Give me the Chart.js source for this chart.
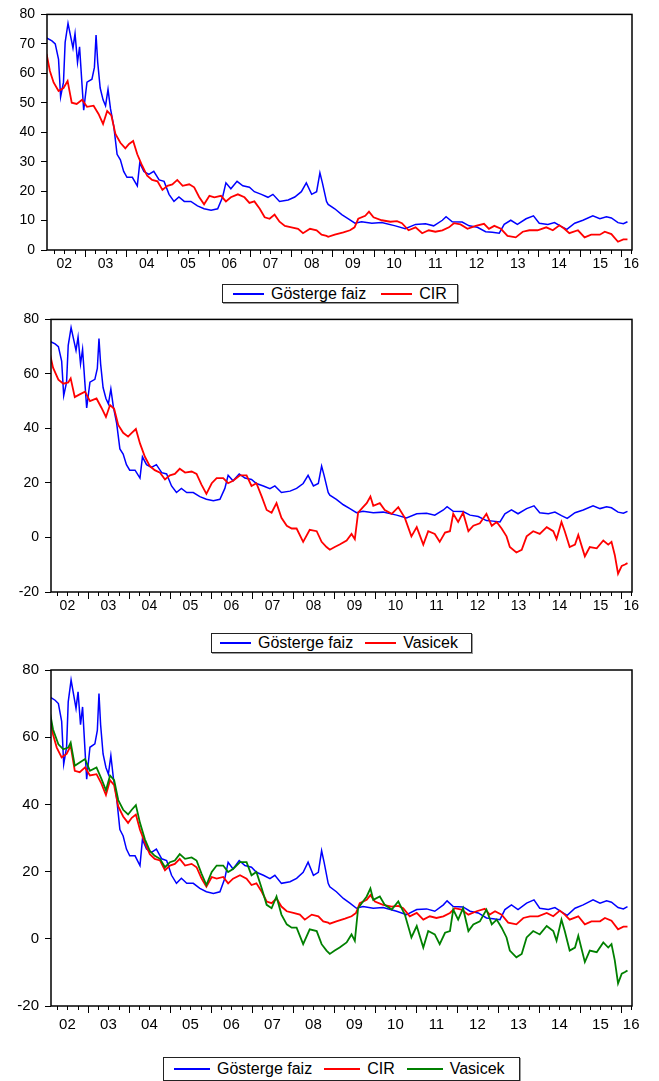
<!DOCTYPE html>
<html>
<head>
<meta charset="utf-8">
<script src="https://cdn.jsdelivr.net/npm/chart.js@4.4.0/dist/chart.umd.min.js"></script>
<style>
html,body{margin:0;padding:0;background:#fff;}
body{width:659px;height:1081px;position:relative;overflow:hidden;font-family:"Liberation Sans",Arial,sans-serif;}
canvas{position:absolute;left:0;}
.lg{position:absolute;box-sizing:border-box;border:1px solid #222;box-shadow:1px 1px 0 #9a9a9a;background:#fff;
    display:flex;align-items:center;font-size:16px;color:#000;white-space:nowrap;line-height:1;}
.lg .it{display:flex;align-items:center;}
</style>
</head>
<body>
<canvas id="c1"></canvas>
<canvas id="c2"></canvas>
<canvas id="c3"></canvas>
<div class="lg" id="l1"></div>
<div class="lg" id="l2"></div>
<div class="lg" id="l3"></div>
<script>
/* ===================== data ===================== */
const years      = [2002,2003,2004,2005,2006,2007,2008,2009,2010,2011,2012,2013,2014,2015,2016];
const yearLabels = ['02','03','04','05','06','07','08','09','10','11','12','13','14','15','16'];

// Gösterge faiz (benchmark rate)
const gostT = [2002.07,2002.20,2002.28,2002.36,2002.41,2002.48,2002.52,2002.59,2002.64,2002.71,2002.76,2002.82,2002.87,2002.93,2002.97,
  2003.05,2003.17,2003.23,2003.27,2003.31,2003.37,2003.44,2003.50,2003.56,2003.62,2003.70,2003.78,2003.86,2003.94,
  2004.02,2004.15,2004.27,2004.33,2004.43,2004.55,2004.67,2004.80,2004.92,
  2005.04,2005.16,2005.28,2005.41,2005.57,2005.73,2005.89,
  2006.06,2006.22,2006.34,2006.42,2006.54,2006.69,2006.83,2006.99,
  2007.11,2007.28,2007.44,2007.56,2007.72,2007.93,
  2008.09,2008.25,2008.37,2008.50,2008.62,2008.70,2008.76,2008.86,2008.90,
  2009.06,2009.23,2009.39,2009.55,2009.71,2009.96,2010.20,2010.53,2010.77,
  2011.02,2011.26,2011.46,2011.67,2011.76,2011.91,2012.15,2012.32,2012.52,2012.72,2012.88,
  2013.05,2013.17,2013.33,2013.49,2013.70,2013.88,2014.02,2014.23,2014.39,2014.55,2014.69,2014.88,
  2015.08,2015.32,2015.49,2015.65,2015.77,2015.93,2016.06,2016.16];
const gostV = [72.0,71,70,64.7,52,57,70.5,77,73.5,68.6,73.5,63.7,69,56,47.5,
  57,58,62,73,63.7,55,51,49,54.5,48,42,32.5,30.6,26.7,
  24.7,24.7,21.8,29.6,26.7,25.7,26.7,23.8,23.3,
  18.9,16.5,18,16.5,16.5,15,14,
  13.5,14,18,22.8,20.8,23.3,21.8,21.3,
  19.8,18.9,17.9,18.9,16.5,17,
  18,19.8,22.8,18.9,19.8,26.2,22.8,16.5,15.5,
  14,12,10.6,9.1,9.6,9.1,9.3,8.2,7.2,
  8.7,8.9,8.2,10.1,11.3,9.6,9.5,8.2,7.7,6.2,6,
  5.7,8.7,10.1,8.7,10.6,11.6,9.1,8.7,9.3,8,7,9.1,
  10.1,11.6,10.6,11.3,10.9,9.3,8.9,9.6];

// CIR
const cirT = [2002.07,2002.15,2002.24,2002.36,2002.48,2002.58,2002.68,2002.80,2002.93,
  2003.05,2003.21,2003.33,2003.44,2003.54,2003.64,2003.74,2003.86,2003.98,
  2004.07,2004.17,2004.27,2004.39,2004.51,2004.63,2004.76,2004.88,
  2005.00,2005.12,2005.24,2005.37,2005.53,2005.65,2005.77,2005.89,
  2006.02,2006.14,2006.30,2006.42,2006.54,2006.71,2006.87,2006.99,
  2007.11,2007.24,2007.36,2007.48,2007.60,2007.72,2007.85,
  2008.01,2008.17,2008.29,2008.46,2008.62,2008.74,2008.86,2008.90,
  2009.06,2009.27,2009.43,2009.54,2009.63,2009.80,2009.89,2010.00,2010.20,2010.41,2010.57,2010.69,2010.85,
  2011.02,2011.18,2011.34,2011.50,2011.67,2011.83,2011.95,2012.11,2012.28,2012.48,2012.68,2012.80,2012.93,
  2013.09,2013.25,2013.45,2013.62,2013.78,2013.98,2014.19,2014.35,2014.51,2014.63,2014.75,2014.96,
  2015.12,2015.28,2015.49,2015.61,2015.77,2015.93,2016.06,2016.16];
const cirV = [66.6,60.8,56.9,54,55,57.4,50,49.6,51,
  48.6,49,46.2,42.8,47.2,45.7,39.4,36.4,34.5,
  36,37,32.5,28.6,25.2,23.8,23.3,20.4,
  21.8,22.3,23.8,21.8,22.3,21.3,18,15.5,
  18.4,17.9,18.4,16.5,17.9,18.9,17.9,16,
  16.5,14,11.1,10.6,12,9.6,8.2,
  7.7,7.2,5.7,7.2,6.7,5.2,4.8,4.5,
  5.2,6,6.7,7.7,10.6,11.6,13,11.1,10.1,9.6,9.8,9.1,6.7,
  7.7,5.7,6.7,6.2,6.7,7.7,9.1,8.7,7.2,8.2,8.9,7.2,8.2,
  7.2,4.8,4.3,6.2,6.7,6.7,7.7,6.7,8.4,7.2,5.7,6.7,
  4.3,5.2,5.2,6.2,5.4,2.8,3.6,3.6];

// Vasicek
const vasT = [2002.07,2002.15,2002.28,2002.40,2002.52,2002.58,2002.68,2002.80,2002.93,
  2003.05,2003.21,2003.33,2003.44,2003.54,2003.64,2003.74,2003.86,2003.98,
  2004.07,2004.17,2004.27,2004.39,2004.51,2004.63,2004.76,2004.88,
  2005.00,2005.12,2005.24,2005.37,2005.53,2005.65,2005.77,2005.89,
  2006.02,2006.14,2006.30,2006.42,2006.54,2006.71,2006.87,2006.99,
  2007.11,2007.24,2007.36,2007.48,2007.60,2007.72,2007.85,2007.97,
  2008.09,2008.25,2008.41,2008.58,2008.70,2008.82,2008.90,
  2009.02,2009.14,2009.31,2009.43,2009.51,2009.59,2009.71,2009.80,2009.89,2009.96,
  2010.12,2010.24,2010.41,2010.57,2010.73,2010.89,2011.02,2011.18,2011.30,2011.46,2011.58,2011.71,2011.83,2011.91,
  2012.03,2012.15,2012.28,2012.40,2012.56,2012.72,2012.85,2012.97,
  2013.09,2013.21,2013.29,2013.45,2013.58,2013.70,2013.86,2014.02,2014.19,2014.35,2014.43,2014.55,2014.63,2014.75,2014.88,2014.96,
  2015.12,2015.24,2015.41,2015.57,2015.69,2015.77,2015.85,2015.93,2016.02,2016.10,2016.16];
const vasV = [67.6,62.3,57.9,56.4,56.9,58.4,51.5,52.5,53.5,
  50,51,47.6,44.2,48.6,47.2,41.3,38.4,37,
  38.4,39.8,34.5,29.6,26.2,24.7,23.8,21.3,
  22.8,23.3,25.2,23.8,24.2,23.3,19.4,16,
  19.9,21.8,21.8,19.9,20.8,22.8,22.8,18.9,
  19.9,15,10.1,9.1,12.6,7.2,4.3,3.3,
  3.3,-1.6,2.8,2.3,-1.6,-3.5,-4.5,
  -3.5,-2.6,-1.1,1.3,-0.6,9.1,11.1,12.6,15,11.6,
  12.6,10.1,8.7,11.1,7.2,0.4,3.8,-2.6,2.3,1.3,-1.6,1.8,2.3,8.7,
  5.7,9.1,2.3,4.3,5.2,8.7,4.3,5.7,
  3.3,0.4,-3.5,-5.5,-4.5,0.4,2.3,1.3,3.8,2.3,-0.6,5.7,2.3,-3.5,-2.6,0.9,
  -6.9,-3.5,-4,-1.1,-2.6,-1.6,-6.4,-13.3,-10.4,-9.9,-9.4];

const NAMES  = ['Gösterge faiz','CIR','Vasicek'];
const COLORS = ['#0000ff','#ff0000','#008000'];

/* ===================== helpers ===================== */
const pts = (t,v) => t.map((x,i)=>({x, y:v[i]}));
const FONT = '"Liberation Sans", Arial, sans-serif';

function xTicks(min,max){
  const out=[];
  years.forEach(y=>[0,.25,.5,.75].forEach(q=>{ const v=y+q; if(v>=min-1e-9 && v<=max+1e-9) out.push({value:v}); }));
  return out;
}
function xLabel(v){
  const y=Math.floor(v+1e-9), f=v-y;
  if(Math.abs(f-0.5)<1e-6) return yearLabels[years.indexOf(y)];
  if(y===2016 && Math.abs(f-0.25)<1e-6) return yearLabels[years.indexOf(2016)];
  return '';
}

// frame round the plot + quarterly / yearly tick marks
const framePlugin = {
  id:'frame',
  afterDraw(chart){
    const {ctx, chartArea:a, scales:{x}} = chart;
    ctx.save();
    ctx.strokeStyle='#000';
    ctx.lineWidth=1.5;
    ctx.strokeRect(a.left, a.top, a.right-a.left, a.bottom-a.top);
    ctx.lineWidth=1;
    ctx.beginPath();
    x.ticks.forEach(t=>{
      const px=Math.round(x.getPixelForValue(t.value))+0.5;
      const major=Math.abs(t.value-Math.round(t.value))<1e-6;
      ctx.moveTo(px,a.bottom); ctx.lineTo(px,a.bottom+(major?7:4));
    });
    ctx.stroke();
    ctx.restore();
  }
};

function makeChart(id, cfg){
  const cv=document.getElementById(id);
  cv.width=659; cv.height=cfg.h; cv.style.top=cfg.top+'px';
  const font={family:FONT, size:cfg.fs};
  return new Chart(cv,{
    type:'line',
    data:{datasets:cfg.series.map((s,i)=>({
      label:s.name, data:s.data, borderColor:s.color, backgroundColor:s.color,
      borderWidth:s.w, pointRadius:0, tension:0, fill:false, order:cfg.series.length-i
    }))},
    options:{
      responsive:false, animation:false, events:[], devicePixelRatio:1,
      layout:{padding:{top:cfg.padTop, right:27, left:0, bottom:0}},
      plugins:{legend:{display:false}, tooltip:{enabled:false}},
      scales:{
        x:{type:'linear', min:cfg.xMin, max:2016.27,
           afterBuildTicks:s=>{ s.ticks=xTicks(s.min,s.max); },
           afterFit:s=>{ s.height=cfg.xH; },
           grid:{display:false, drawTicks:false}, border:{display:false},
           ticks:{autoSkip:false, maxRotation:0, color:'#000', font, padding:cfg.xPad, callback:xLabel}},
        y:{min:cfg.yMin, max:80,
           afterFit:s=>{ s.width=cfg.yW; },
           grid:{drawOnChartArea:false, drawTicks:true, tickLength:6, color:'#000', tickColor:'#000'},
           border:{display:false},
           ticks:{stepSize:cfg.yStep, color:'#000', font, padding:6}}
      }
    },
    plugins:[framePlugin]
  });
}

// boxed legend under each chart, built from the chart's datasets
function legend(id, chart, box){
  const el=document.getElementById(id);
  Object.assign(el.style,{left:box.l+'px', top:box.t+'px', width:box.w+'px', height:box.h+'px', paddingLeft:box.pad+'px'});
  chart.data.datasets.forEach((d,i)=>{
    const it=document.createElement('span'); it.className='it';
    if(i) it.style.marginLeft=box.gap+'px';
    const ln=document.createElement('span');
    ln.style.cssText='display:inline-block;width:'+box.line+'px;height:2px;margin-right:7px;background:'+d.borderColor+';';
    const tx=document.createElement('span'); tx.textContent=d.label;
    it.append(ln,tx); el.append(it);
  });
}

/* ===================== charts ===================== */
const G ={name:NAMES[0], color:COLORS[0], w:1.5, data:pts(gostT,gostV)};
const C ={name:NAMES[1], color:COLORS[1], w:1.8, data:pts(cirT,cirV)};
const Vr={name:NAMES[2], color:COLORS[1], w:1.8, data:pts(vasT,vasV)};
const Vg={name:NAMES[2], color:COLORS[2], w:1.8, data:pts(vasT,vasV)};

const ch1=makeChart('c1',{top:0,   h:283, padTop:7, xH:33, yW:47, xMin:2002.08, yMin:0,   yStep:10, fs:14, xPad:6,  series:[G,C]});
const ch2=makeChart('c2',{top:305, h:320, padTop:8, xH:33, yW:51, xMin:2002.10, yMin:-20, yStep:20, fs:14, xPad:6,  series:[G,Vr]});
const ch3=makeChart('c3',{top:655, h:390, padTop:9, xH:39, yW:51, xMin:2002.10, yMin:-20, yStep:20, fs:15, xPad:10, series:[G,C,Vg]});

legend('l1',ch1,{l:222,t:284,w:236,h:19,pad:10,line:31,gap:15});
legend('l2',ch2,{l:211,t:633,w:261,h:20,pad:8, line:31,gap:12});
legend('l3',ch3,{l:163,t:1057,w:357,h:24,pad:10,line:36,gap:12});
</script>
</body>
</html>
